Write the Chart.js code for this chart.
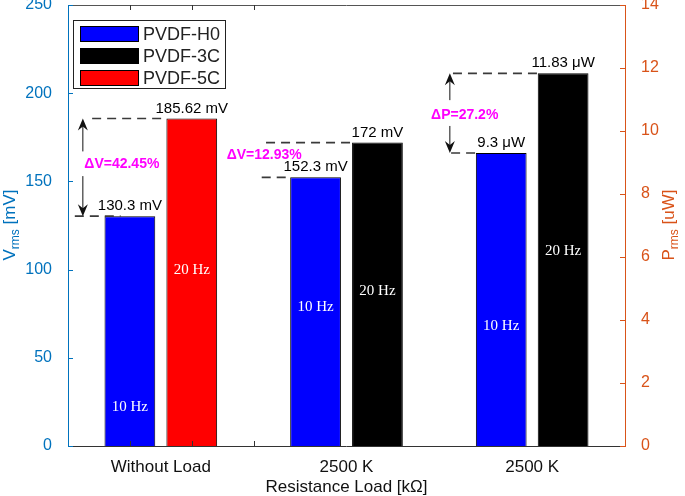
<!DOCTYPE html>
<html>
<head>
<meta charset="utf-8">
<script src="https://cdn.jsdelivr.net/npm/chart.js@4"></script>
<style>
  html, body { margin: 0; padding: 0; background: #fff; }
  #wrap { width: 685px; height: 496px; }
</style>
</head>
<body>
<div id="wrap"><canvas id="chart"></canvas></div>
<script>
const categories = ['Without Load', '2500 K', '2500 K'];
const seriesNames = ['PVDF-H0', 'PVDF-3C', 'PVDF-5C'];
const seriesColors = ['#0000ff', '#000000', '#ff0000'];
// which series sits in each slot of a group
const groupSeries = [[0, 2], [0, 1], [0, 1]];
const vrmsWithoutLoad = [130.3, 185.62]; // mV
const vrms2500K = [152.3, 172];          // mV
const prms2500K = [9.3, 11.83];          // uW, right axis
const freqLabels = ['10 Hz', '20 Hz'];
const deltaLabels = ['\u0394V=42.45%', '\u0394V=12.93%', '\u0394P=27.2%'];
const vTicks = [0, 50, 100, 150, 200, 250];
const pTicks = [0, 2, 4, 6, 8, 10, 12, 14];

const groupValues = [vrmsWithoutLoad, vrms2500K, prms2500K];
const groupAxis = ['y', 'y', 'y1'];
const groupUnit = ['mV', 'mV', '\u03bcW'];

const BLUE_AX = '#0072BD';
const ORANGE_AX = '#D95319';
const SANS = '"Liberation Sans", Arial, sans-serif';
const SERIF = '"Liberation Serif", "Times New Roman", serif';

const datasets = [];
groupValues.forEach((vals, g) => {
    vals.forEach((v, s) => {
        const si = groupSeries[g][s];
        datasets.push({
            label: seriesNames[si],
            data: [{ x: g * 3 + 1 + s, y: v }],
            yAxisID: groupAxis[g],
            backgroundColor: seriesColors[si],
            borderColor: '#000',
            borderWidth: 1,
            grouped: false,
            categoryPercentage: 1,
            barPercentage: 0.82
        });
    });
});

// heights (in axis units) of the frequency text inside each bar
const hzY = [[22, 100], [79, 88], [3.8, 6.2]];

function dashLine(ctx, x0, x1, py) {
    ctx.save();
    ctx.setLineDash([9, 6]);
    ctx.strokeStyle = '#3a3a3a';
    ctx.lineWidth = 1.6;
    ctx.beginPath();
    ctx.moveTo(x0, py);
    ctx.lineTo(x1, py);
    ctx.stroke();
    ctx.restore();
}

function arrow(ctx, px, y0, y1) {
    const dir = y1 < y0 ? -1 : 1;
    ctx.save();
    ctx.strokeStyle = '#111';
    ctx.fillStyle = '#111';
    ctx.lineWidth = 1;
    ctx.beginPath();
    ctx.moveTo(px, y0);
    ctx.lineTo(px, y1 - dir * 6);
    ctx.stroke();
    ctx.beginPath();
    ctx.moveTo(px, y1);
    ctx.lineTo(px - 5, y1 - dir * 12);
    ctx.lineTo(px, y1 - dir * 8);
    ctx.lineTo(px + 5, y1 - dir * 12);
    ctx.closePath();
    ctx.fill();
    ctx.restore();
}

function rotTitle(ctx, cx, cy, main, sub, rest, color) {
    ctx.save();
    ctx.translate(cx, cy);
    ctx.rotate(-Math.PI / 2);
    ctx.fillStyle = color;
    ctx.textBaseline = 'middle';
    ctx.textAlign = 'left';
    ctx.font = '17px ' + SANS;
    const w1 = ctx.measureText(main).width;
    const w3 = ctx.measureText(rest).width;
    ctx.font = '12px ' + SANS;
    const w2 = ctx.measureText(sub).width;
    let x0 = -(w1 + w2 + w3) / 2;
    ctx.font = '17px ' + SANS;
    ctx.fillText(main, x0, 0);
    ctx.font = '12px ' + SANS;
    ctx.fillText(sub, x0 + w1, 6);
    ctx.font = '17px ' + SANS;
    ctx.fillText(rest, x0 + w1 + w2, 0);
    ctx.restore();
}

const overlay = {
    id: 'overlay',
    afterDatasetsDraw(chart) {
        const { ctx, chartArea: a, scales } = chart;
        const x = scales.x, yl = scales.y, yr = scales.y1;

        // value labels and frequency labels
        groupValues.forEach((vals, g) => {
            const ys = scales[groupAxis[g]];
            vals.forEach((v, s) => {
                const px = x.getPixelForValue(g * 3 + 1 + s);
                ctx.save();
                ctx.fillStyle = '#000';
                ctx.font = '15px ' + SANS;
                ctx.textAlign = 'center';
                ctx.textBaseline = 'alphabetic';
                ctx.fillText(v + ' ' + groupUnit[g], px, ys.getPixelForValue(v) - 6);
                ctx.fillStyle = '#fff';
                ctx.font = '15px ' + SERIF;
                ctx.textBaseline = 'middle';
                ctx.fillText(freqLabels[s], px, ys.getPixelForValue(hzY[g][s]));
                ctx.restore();
            });
        });

        // group 1
        dashLine(ctx, x.getPixelForValue(0.11), x.getPixelForValue(0.85), yl.getPixelForValue(vrmsWithoutLoad[0]));
        dashLine(ctx, x.getPixelForValue(0.39), x.getPixelForValue(1.59), yl.getPixelForValue(vrmsWithoutLoad[1]));
        arrow(ctx, x.getPixelForValue(0.24), yl.getPixelForValue(167), yl.getPixelForValue(vrmsWithoutLoad[1]));
        arrow(ctx, x.getPixelForValue(0.24), yl.getPixelForValue(153), yl.getPixelForValue(vrmsWithoutLoad[0]));
        // group 2
        dashLine(ctx, x.getPixelForValue(3.13), x.getPixelForValue(3.58), yl.getPixelForValue(vrms2500K[0]));
        dashLine(ctx, x.getPixelForValue(3.2), x.getPixelForValue(4.58), yl.getPixelForValue(vrms2500K[1]));
        // group 3
        dashLine(ctx, x.getPixelForValue(6.22), x.getPixelForValue(7.59), yr.getPixelForValue(prms2500K[1]));
        dashLine(ctx, x.getPixelForValue(6.19), x.getPixelForValue(6.59), yr.getPixelForValue(prms2500K[0]));
        arrow(ctx, x.getPixelForValue(6.17), yr.getPixelForValue(10.98), yr.getPixelForValue(prms2500K[1]));
        arrow(ctx, x.getPixelForValue(6.17), yr.getPixelForValue(10.16), yr.getPixelForValue(prms2500K[0]));

        ctx.save();
        ctx.fillStyle = '#ff00ff';
        ctx.font = 'bold 14px ' + SANS;
        ctx.textAlign = 'center';
        ctx.textBaseline = 'middle';
        ctx.fillText(deltaLabels[0], x.getPixelForValue(0.87), yl.getPixelForValue(160));
        ctx.fillText(deltaLabels[1], x.getPixelForValue(3.17), yl.getPixelForValue(165));
        ctx.fillText(deltaLabels[2], x.getPixelForValue(6.41), yr.getPixelForValue(10.5));
        ctx.restore();
    },
    afterDraw(chart) {
        const { ctx, chartArea: a, scales } = chart;
        const x = scales.x;
        ctx.save();
        ctx.lineWidth = 1;
        // frame
        ctx.strokeStyle = '#555';
        ctx.beginPath();
        ctx.moveTo(a.left, a.top + 0.5); ctx.lineTo(a.right, a.top + 0.5);
        ctx.stroke();
        ctx.strokeStyle = '#333';
        ctx.beginPath();
        ctx.moveTo(a.left, a.bottom + 0.5); ctx.lineTo(a.right, a.bottom + 0.5);
        ctx.stroke();
        [1, 2, 3].forEach(v => {
            const px = Math.round(x.getPixelForValue(v)) + 0.5;
            ctx.beginPath();
            ctx.moveTo(px, a.bottom); ctx.lineTo(px, a.bottom - 5);
            ctx.moveTo(px, a.top); ctx.lineTo(px, a.top + 5);
            ctx.stroke();
        });
        ctx.strokeStyle = BLUE_AX;
        ctx.beginPath();
        ctx.moveTo(a.left + 0.5, a.top); ctx.lineTo(a.left + 0.5, a.bottom + 1);
        vTicks.forEach(v => {
            const py = Math.round(scales.y.getPixelForValue(v)) + 0.5;
            ctx.moveTo(a.left, py); ctx.lineTo(a.left + 5, py);
        });
        ctx.stroke();
        ctx.strokeStyle = ORANGE_AX;
        ctx.beginPath();
        ctx.moveTo(a.right + 0.5, a.top); ctx.lineTo(a.right + 0.5, a.bottom + 1);
        pTicks.forEach(v => {
            const py = Math.round(scales.y1.getPixelForValue(v)) + 0.5;
            ctx.moveTo(a.right, py); ctx.lineTo(a.right - 5, py);
        });
        ctx.stroke();

        // legend
        const lx = a.left + 5, ly = a.top + 15;
        ctx.fillStyle = '#fff';
        ctx.fillRect(lx, ly, 152, 69);
        ctx.strokeStyle = '#222';
        ctx.strokeRect(lx + 0.5, ly + 0.5, 152, 68);
        seriesNames.forEach((name, i) => {
            const yy = ly + 6 + i * 22;
            ctx.fillStyle = seriesColors[i];
            ctx.fillRect(lx + 7, yy, 59, 16);
            ctx.strokeStyle = '#000';
            ctx.strokeRect(lx + 7.5, yy + 0.5, 58, 15);
            ctx.fillStyle = '#222';
            ctx.font = '18px ' + SANS;
            ctx.textAlign = 'left';
            ctx.textBaseline = 'middle';
            ctx.fillText(name, lx + 70, yy + 9);
        });

        // axis titles
        rotTitle(ctx, 10, 225, 'V', 'rms', ' [mV]', BLUE_AX);
        rotTitle(ctx, 669, 225, 'P', 'rms', ' [uW]', ORANGE_AX);
        ctx.fillStyle = '#111';
        ctx.font = '17px ' + SANS;
        ctx.textAlign = 'center';
        ctx.textBaseline = 'middle';
        ctx.fillText('Resistance Load [k\u03a9]', (a.left + a.right) / 2, 487);
        ctx.restore();
    }
};

function noPad(s) {
    s.paddingTop = 0;
    s.paddingBottom = 0;
    s.paddingLeft = 0;
    s.paddingRight = 0;
}

new Chart(document.getElementById('chart'), {
    type: 'bar',
    data: { datasets: datasets },
    options: {
        responsive: true,
        maintainAspectRatio: false,
        animation: false,
        layout: { autoPadding: false, padding: { top: 5, left: 0, right: 0, bottom: 0 } },
        plugins: { legend: { display: false }, tooltip: { enabled: false } },
        scales: {
            x: {
                type: 'linear',
                min: 0,
                max: 9,
                offset: false,
                grid: { display: false, offset: false },
                border: { display: false },
                afterBuildTicks: s => { s.ticks = categories.map((c, i) => ({ value: i * 3 + 1.5 })); },
                afterFit: s => { s.height = 50; noPad(s); },
                ticks: {
                    autoSkip: false,
                    maxRotation: 0,
                    padding: 3,
                    color: '#111',
                    font: { family: SANS, size: 17 },
                    callback: v => categories[Math.round((v - 1.5) / 3)]
                }
            },
            y: {
                position: 'left',
                min: vTicks[0],
                max: vTicks[vTicks.length - 1],
                grid: { display: false },
                border: { display: false },
                afterFit: s => { s.width = 68; noPad(s); },
                ticks: { stepSize: vTicks[1] - vTicks[0], color: BLUE_AX, padding: 8, font: { family: SANS, size: 16 } }
            },
            y1: {
                position: 'right',
                min: pTicks[0],
                max: pTicks[pTicks.length - 1],
                grid: { display: false },
                border: { display: false },
                afterFit: s => { s.width = 60; noPad(s); },
                ticks: { stepSize: pTicks[1] - pTicks[0], color: ORANGE_AX, padding: 8, font: { family: SANS, size: 16 } }
            }
        }
    },
    plugins: [overlay]
});
</script>
</body>
</html>
